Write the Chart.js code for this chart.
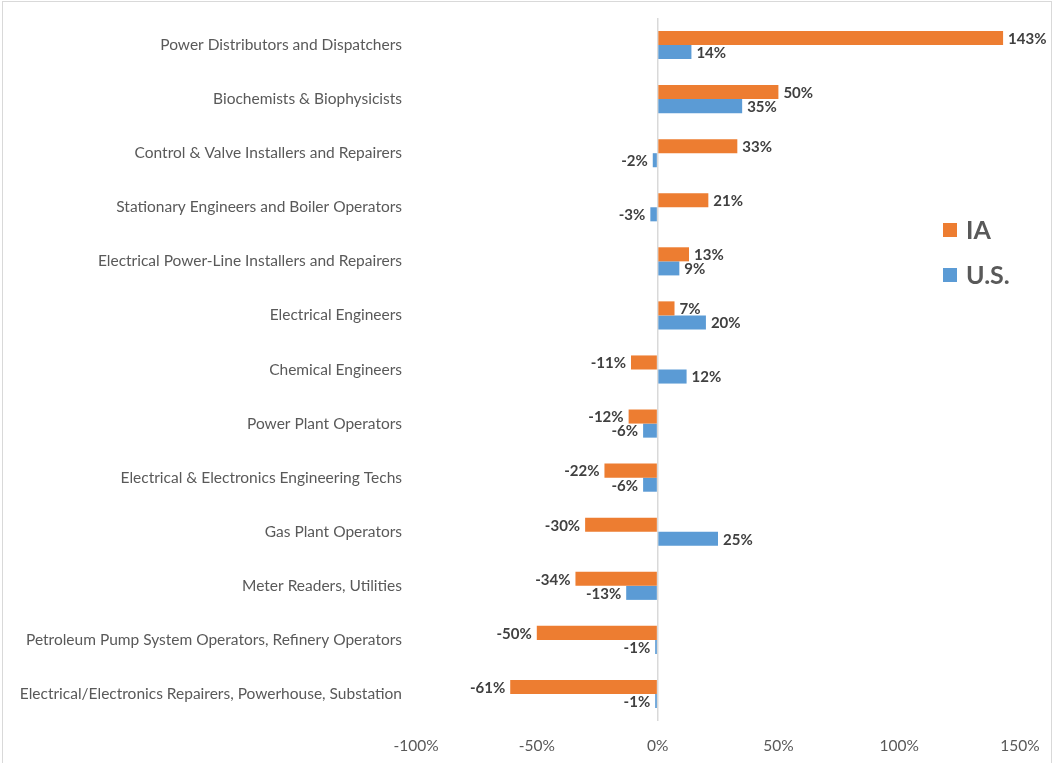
<!DOCTYPE html>
<html lang="en">
<head>
    <meta charset="UTF-8">
    <title>Job Growth: IA vs U.S.</title>
    <script src="https://cdn.jsdelivr.net/npm/chart.js"></script>
    <style>
        body {
            margin: 0;
            background: #ffffff;
        }
        #wrap {
            width: 1056px;
            height: 763px;
        }
    </style>
</head>
<body>
    <div id="wrap">
        <canvas id="growthChart" width="1056" height="763"></canvas>
    </div>

    <script>
        const occupations = [
            'Power Distributors and Dispatchers',
            'Biochemists & Biophysicists',
            'Control & Valve Installers and Repairers',
            'Stationary Engineers and Boiler Operators',
            'Electrical Power-Line Installers and Repairers',
            'Electrical Engineers',
            'Chemical Engineers',
            'Power Plant Operators',
            'Electrical & Electronics Engineering Techs',
            'Gas Plant Operators',
            'Meter Readers, Utilities',
            'Petroleum Pump System Operators, Refinery Operators',
            'Electrical/Electronics Repairers, Powerhouse, Substation'
        ];
        const iaGrowth = [143, 50, 33, 21, 13, 7, -11, -12, -22, -30, -34, -50, -61];
        const usGrowth = [14, 35, -2, -3, 9, 20, 12, -6, -6, 25, -13, -1, -1];

        const FONT = 'Lato, "Liberation Sans", sans-serif';

        // Percent labels at the end of each bar
        const valueLabels = {
            id: 'valueLabels',
            afterDatasetsDraw(chart) {
                const ctx = chart.ctx;
                ctx.save();
                ctx.font = 'bold 15px ' + FONT;
                ctx.fillStyle = '#404040';
                ctx.textBaseline = 'middle';
                chart.data.datasets.forEach((ds, i) => {
                    chart.getDatasetMeta(i).data.forEach((bar, j) => {
                        const v = ds.data[j];
                        const neg = v < 0;
                        ctx.textAlign = neg ? 'right' : 'left';
                        ctx.fillText(v + '%', bar.x + (neg ? -5 : 5), bar.y + 1);
                    });
                });
                ctx.restore();
            }
        };

        // Legend sits inside the plot, on the right
        const sideLegend = {
            id: 'sideLegend',
            afterDraw(chart) {
                const ctx = chart.ctx;
                const x = chart.chartArea.right - 77;
                let y = chart.chartArea.top + 212;
                ctx.save();
                ctx.font = 'bold 25px ' + FONT;
                ctx.textBaseline = 'middle';
                ctx.textAlign = 'left';
                chart.data.datasets.forEach(ds => {
                    ctx.fillStyle = ds.backgroundColor;
                    ctx.fillRect(x, y - 7, 14, 14);
                    ctx.fillStyle = '#595959';
                    ctx.fillText(ds.label, x + 23, y + 1);
                    y += 45;
                });
                ctx.restore();
            }
        };

        const frame = {
            id: 'frame',
            beforeDraw(chart) {
                const ctx = chart.ctx;
                ctx.save();
                ctx.strokeStyle = '#d9d9d9';
                ctx.lineWidth = 1;
                ctx.strokeRect(2.5, 1.5, 1049, 770);
                ctx.restore();
            }
        };

        new Chart(document.getElementById('growthChart'), {
            type: 'bar',
            data: {
                labels: occupations,
                datasets: [
                    { label: 'IA', data: iaGrowth, backgroundColor: '#ED7D31' },
                    { label: 'U.S.', data: usGrowth, backgroundColor: '#5B9BD5' }
                ]
            },
            options: {
                indexAxis: 'y',
                responsive: false,
                animation: false,
                categoryPercentage: 0.52,
                barPercentage: 1,
                layout: { padding: { left: 10, right: 36, top: 18, bottom: 8 } },
                plugins: {
                    legend: { display: false },
                    tooltip: { enabled: false }
                },
                scales: {
                    x: {
                        min: -100,
                        max: 150,
                        ticks: {
                            stepSize: 50,
                            padding: 16,
                            color: '#595959',
                            font: { family: FONT, size: 15.5 },
                            callback: v => v + '%'
                        },
                        grid: {
                            drawTicks: false,
                            lineWidth: 1.5,
                            color: c => c.tick && c.tick.value === 0 ? '#d9d9d9' : 'rgba(0,0,0,0)'
                        },
                        border: { display: false },
                        afterFit: s => { s.height = 34; }
                    },
                    y: {
                        grid: { display: false, drawTicks: false },
                        border: { display: false },
                        ticks: {
                            padding: 14,
                            color: '#595959',
                            font: { family: FONT, size: 15.5 }
                        },
                        afterFit: s => {
                            s.width = 406;
                            s.paddingTop = 0;
                            s.paddingBottom = 0;
                        }
                    }
                }
            },
            plugins: [frame, valueLabels, sideLegend]
        });
    </script>
</body>
</html>
